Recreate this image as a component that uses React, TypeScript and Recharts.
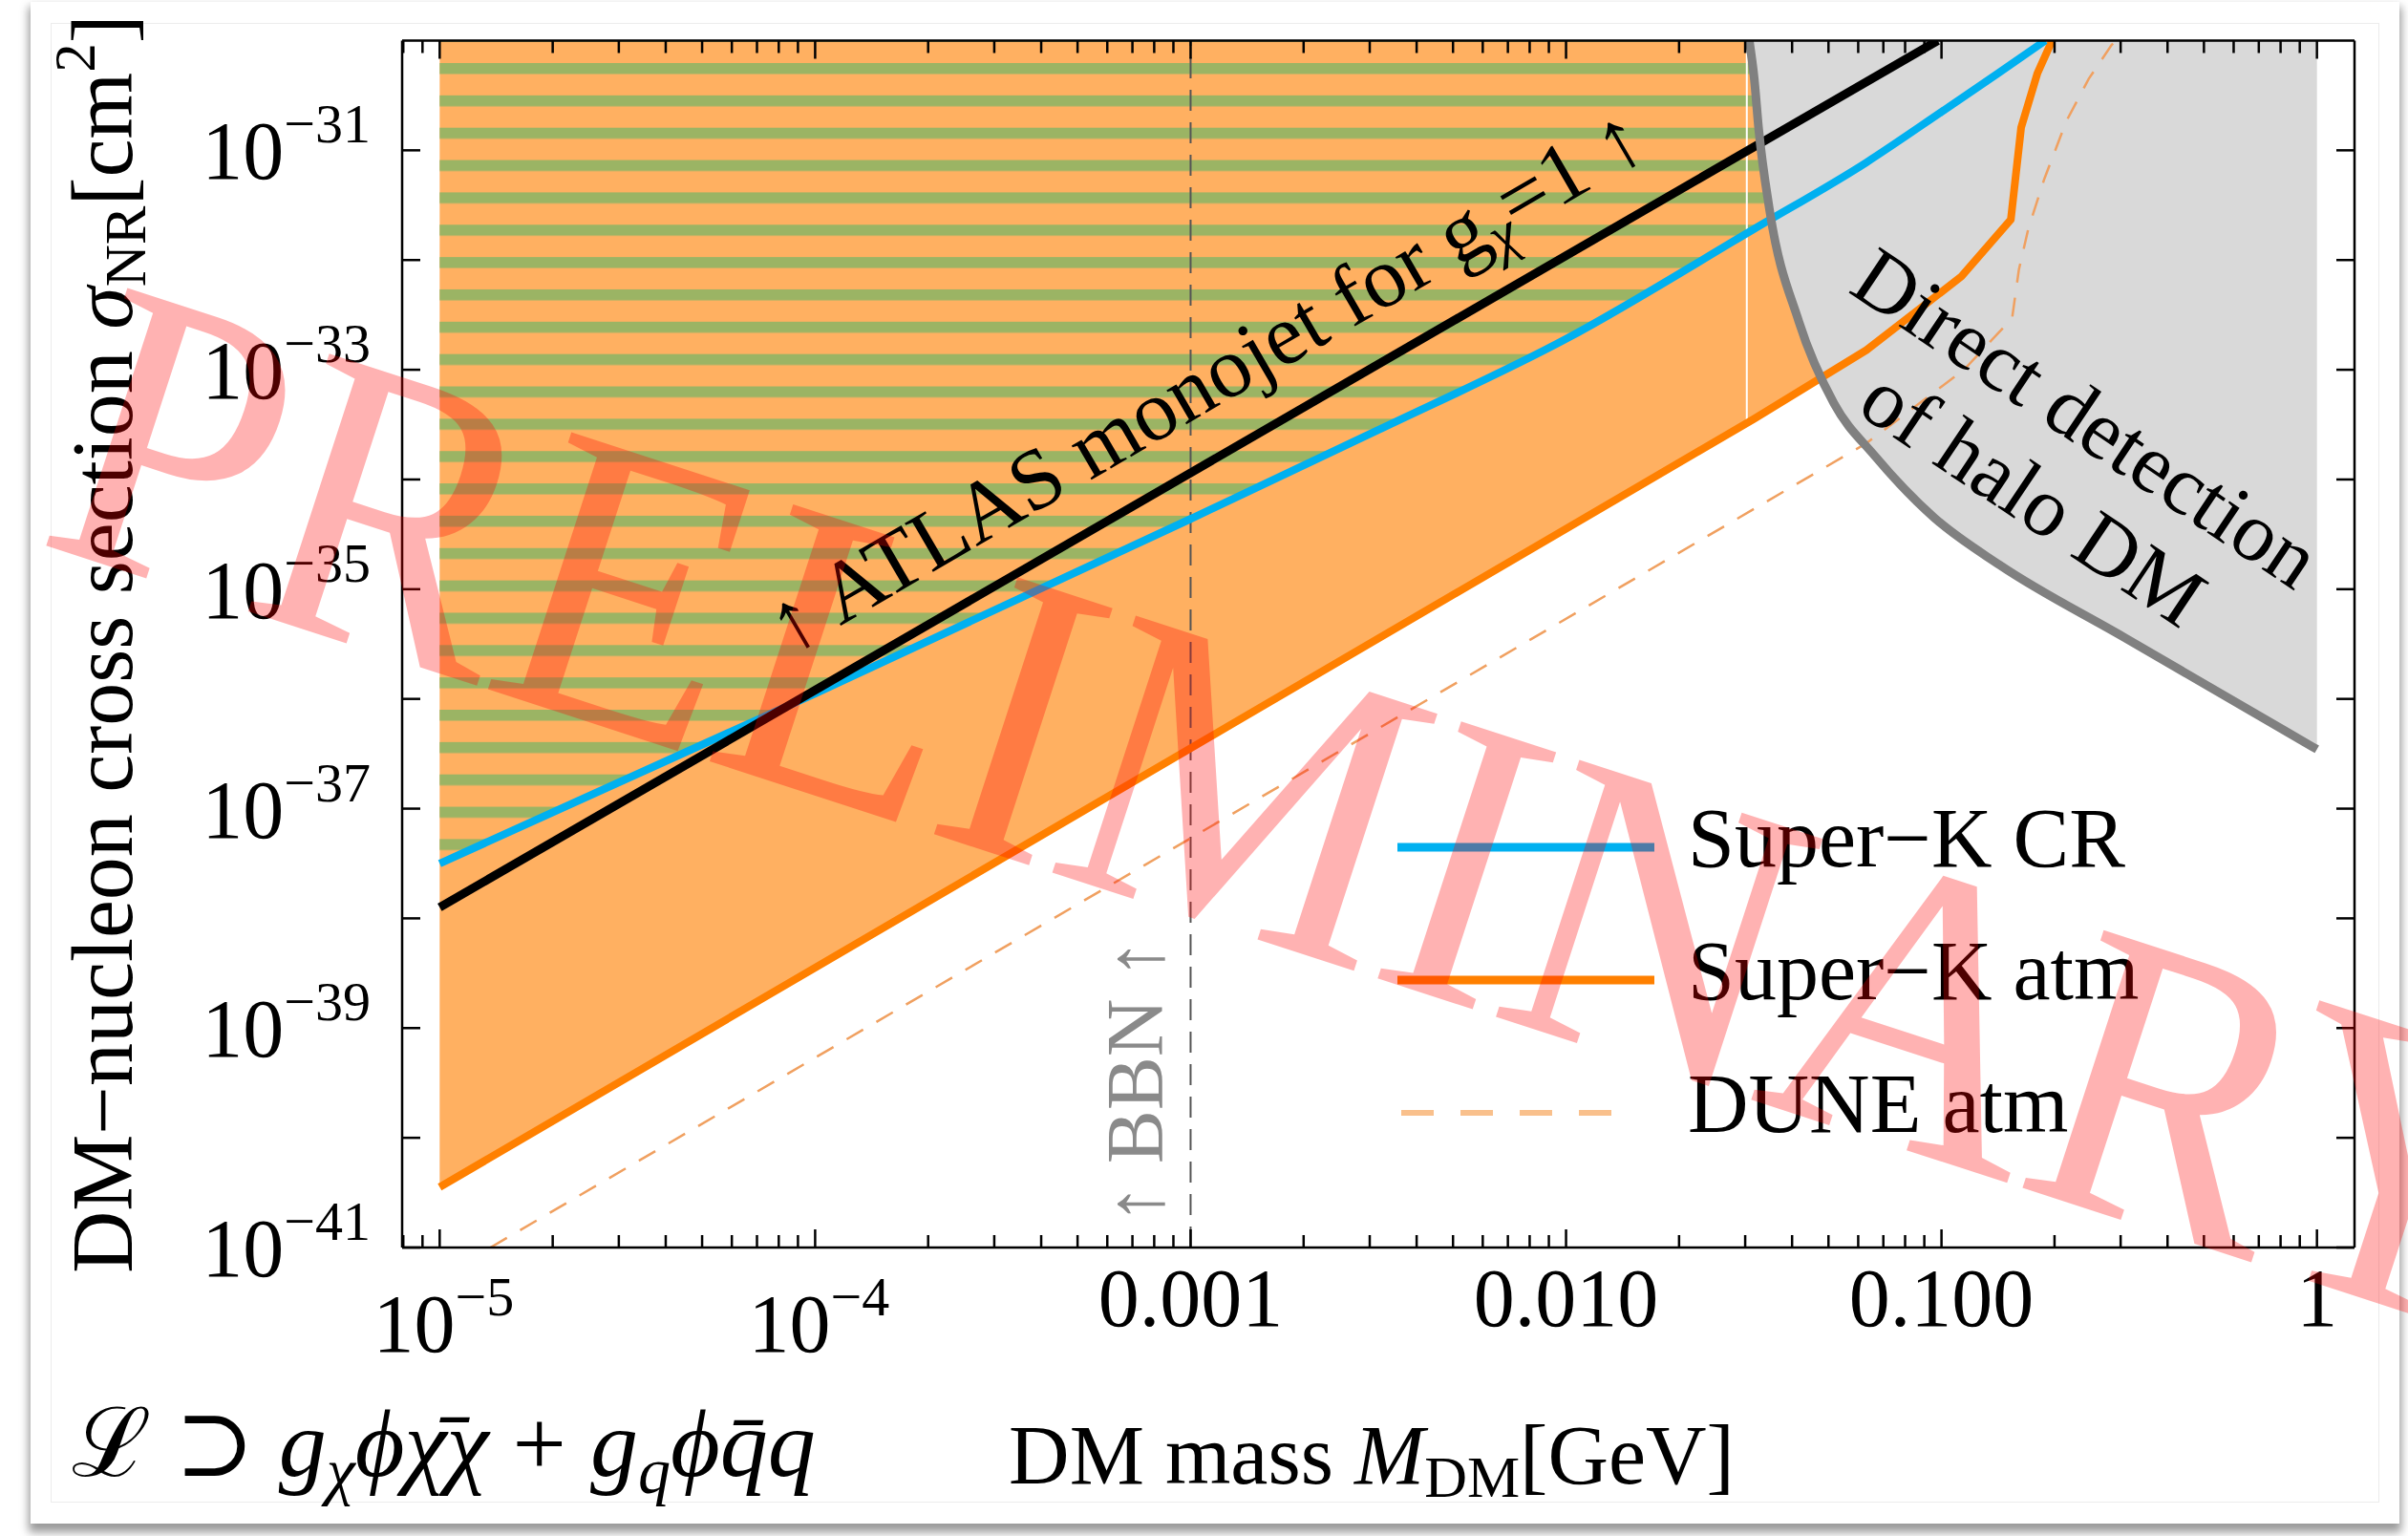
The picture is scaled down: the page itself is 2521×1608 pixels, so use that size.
import React from "react";
import { ComposedChart, Line, Area, XAxis, YAxis, Legend } from "recharts";

const FONT = '"Liberation Serif", "DejaVu Serif", serif';

// page / plot geometry (px)
const W = 2521;
const H = 1608;
const LEFT_W = 421;
const RIGHT_W = 56;
const TOP_H = 42.5;
const BOTTOM_H = 302;

const X_DOMAIN = [7.943e-6, 1.259];
const Y_DOMAIN = [1e-41, 1e-30];
const TOP_SIGMA = 1e-30;

// Super-K cosmic-ray upscattering bound (blue)
const crMass = [1e-5, 1e-4, 1e-3, 3.16e-3, 0.01, 0.0316, 0.0631, 0.1, 0.141, 0.189];
const crSigma = [3.16e-38, 1.12e-36, 4.37e-35, 2.82e-34, 1.91e-33, 1.91e-32, 7.76e-32, 2.24e-31, 5.0e-31, 1.0e-30];

// Super-K atmospheric bound (orange)
const atmMass = [1e-5, 0.0316, 0.0631, 0.113, 0.153, 0.163, 0.18, 0.197];
const atmSigma = [3.55e-41, 3.55e-34, 1.51e-33, 7.08e-33, 2.34e-32, 1.62e-31, 5.01e-31, 1.0e-30];

// DUNE atmospheric projection (dashed)
const duneMass = [1.365e-5, 0.0631, 0.1148, 0.1542, 0.1607, 0.1702, 0.1879, 0.2153, 0.2466, 0.2838, 0.292];
const duneSigma = [1e-41, 2.14e-34, 1e-33, 2.95e-33, 8.13e-33, 1.91e-32, 5.5e-32, 1.86e-31, 4.47e-31, 9.12e-31, 1.0e-30];

// ATLAS monojet, g_chi = 1 (black)
const atlasMass = [1e-5, 0.0977];
const atlasSigma = [1.26e-38, 1.0e-30];

// direct detection of halo DM (grey)
const ddMass = [0.03076, 0.0317, 0.0326, 0.03475, 0.04169, 0.05176, 0.06622, 0.09572, 0.1429, 0.3069, 1.0];
const ddSigma = [1e-30, 4.57e-31, 1.55e-31, 3.02e-32, 2.75e-33, 4.9e-34, 1.66e-34, 4.47e-35, 1.66e-35, 3.63e-36, 3.47e-37];

// BBN bound and the thin white seam in the shaded region
const bbnMass = [1e-3, 1e-3];
const bbnSigma = [1e-41, 1e-30];
const seamMass = [0.0303, 0.0303];
const seamSigma = [3.24e-34, 1e-30];

// ticks
const xMajorTicks = [1e-5, 1e-4, 1e-3, 0.01, 0.1, 1];
const xTickLabels = ["10^−5", "10^−4", "0.001", "0.010", "0.100", "1"];
const xMinorSteps = [2, 3, 4, 5, 6, 7, 8, 9];
const xTicks = [8e-6, 9e-6, ...xMajorTicks, ...xMajorTicks.slice(0, 5).flatMap((d) => xMinorSteps.map((k) => k * d))];
const yTicks = [1e-41, 1e-40, 1e-39, 1e-38, 1e-37, 1e-36, 1e-35, 1e-34, 1e-33, 1e-32, 1e-31];
const yLabelExponents = [-41, -39, -37, -35, -33, -31];

// legend
const legendNames = ["Super−K CR", "Super−K atm", "DUNE atm"];
const legendColors = ["#00B0F0", "#FF8000", "#F9C08C"];
const legendDash = ["", "", "34 28"];

const toRows = (mass: number[], sigma: number[]) => mass.map((m, i) => ({ mass: m, sigma: sigma[i] }));
const toBand = (mass: number[], sigma: number[]) => mass.map((m, i) => ({ mass: m, band: [sigma[i], TOP_SIGMA] }));

const majorIndex = (v: number) => xMajorTicks.findIndex((t) => Math.abs(Math.log10(t) - Math.log10(v)) < 1e-6);

const PowerLabel = ({ x, y, base, exp, anchor }: any) => (
  <text x={x} y={y} textAnchor={anchor} fontFamily={FONT} fontSize={86} fill="#000">
    <tspan>{base}</tspan>
    <tspan dy={-38} fontSize={58}>{exp}</tspan>
  </text>
);

const XTickBottom = (props: any) => {
  const { x, y, payload } = props;
  const idx = majorIndex(payload.value);
  const len = idx >= 0 ? 19 : 13;
  let label = null;
  if (idx >= 0) {
    const txt = xTickLabels[idx];
    if (txt.includes("^")) {
      const [b, e] = txt.split("^");
      label = <PowerLabel x={x + 4} y={y + 109} base={b} exp={e} anchor="middle" />;
    } else {
      label = (
        <text x={x} y={y + 82} textAnchor="middle" fontFamily={FONT} fontSize={86} fill="#000">
          {txt}
        </text>
      );
    }
  }
  return (
    <g>
      <line x1={x} x2={x} y1={y} y2={y - len} stroke="#000" strokeWidth={2.5} />
      {label}
    </g>
  );
};

const XTickTop = (props: any) => {
  const { x, y, payload } = props;
  const len = majorIndex(payload.value) >= 0 ? 19 : 13;
  return <line x1={x} x2={x} y1={y} y2={y + len} stroke="#000" strokeWidth={2.5} />;
};

const YTickLeft = (props: any) => {
  const { x, y, payload } = props;
  const exp = Math.round(Math.log10(payload.value));
  const labelled = yLabelExponents.includes(exp);
  return (
    <g>
      <line x1={x} x2={x + 19} y1={y} y2={y} stroke="#000" strokeWidth={2.5} />
      {labelled && <PowerLabel x={x - 33} y={y + 30} base="10" exp={"−" + Math.abs(exp)} anchor="end" />}
    </g>
  );
};

const YTickRight = (props: any) => {
  const { x, y } = props;
  return <line x1={x} x2={x - 19} y1={y} y2={y} stroke="#000" strokeWidth={2.5} />;
};

const LegendBox = () => (
  <svg width={800} height={420} style={{ overflow: "visible" }}>
    {legendNames.map((name, i) => {
      const y = 67 + i * 139;
      return (
        <g key={name}>
          <line
            x1={legendDash[i] ? 27 : 23}
            x2={legendDash[i] ? 273 : 292}
            y1={y}
            y2={y}
            stroke={legendColors[i]}
            strokeWidth={legendDash[i] ? 6 : 9}
            strokeDasharray={legendDash[i] || undefined}
          />
          <text x={327} y={y + 20} fontFamily={FONT} fontSize={88} fill="#000">
            {name}
          </text>
        </g>
      );
    })}
  </svg>
);

export default function App() {
  return (
    <div style={{ position: "absolute", left: 0, top: 0, width: W, height: H, background: "#fff", overflow: "hidden" }}>
      {/* card with drop shadow */}
      <div
        style={{
          position: "absolute",
          left: 32,
          top: 2,
          width: 2480,
          height: 1593,
          background: "#fff",
          boxShadow: "0 7px 9px 2px rgba(0,0,0,0.4)",
        }}
      />
      <div
        style={{
          position: "absolute",
          left: 53,
          top: 24,
          width: 2438,
          height: 1549,
          border: "1px solid #ececec",
          boxSizing: "border-box",
        }}
      />

      <svg width={0} height={0} style={{ position: "absolute" }}>
        <defs>
          <pattern id="stripes" patternUnits="userSpaceOnUse" x={0} y={66} width={40} height={33.85}>
            <rect x={0} y={0} width={40} height={11.5} fill="#9BB464" />
          </pattern>
        </defs>
      </svg>

      <div style={{ position: "absolute", left: 0, top: 0 }}>
        <ComposedChart width={W} height={H} margin={{ top: 0, right: 0, bottom: 0, left: 0 }}>
          <Line
            data={toRows(bbnMass, bbnSigma)}
            dataKey="sigma"
            stroke="#555"
            strokeWidth={2}
            strokeDasharray="22 12"
            dot={false}
            legendType="none"
            isAnimationActive={false}
          />
          <Area
            data={toBand(atmMass, atmSigma)}
            dataKey="band"
            type="linear"
            stroke="none"
            fill="#FF8000"
            fillOpacity={0.62}
            legendType="none"
            isAnimationActive={false}
          />
          <Area
            data={toBand(crMass, crSigma)}
            dataKey="band"
            type="linear"
            stroke="none"
            fill="url(#stripes)"
            fillOpacity={1}
            legendType="none"
            isAnimationActive={false}
          />
          <Line
            data={toRows(seamMass, seamSigma)}
            dataKey="sigma"
            stroke="#fff"
            strokeWidth={2}
            dot={false}
            legendType="none"
            isAnimationActive={false}
          />
          <Area
            data={toBand(ddMass, ddSigma)}
            dataKey="band"
            type="monotone"
            stroke="none"
            fill="#D9D9D9"
            fillOpacity={1}
            legendType="none"
            isAnimationActive={false}
          />
          <Line
            data={toRows(duneMass, duneSigma)}
            dataKey="sigma"
            name="DUNE atm"
            type="linear"
            stroke="#F0A060"
            strokeWidth={2.5}
            strokeDasharray="20 16"
            dot={false}
            isAnimationActive={false}
          />
          <Line
            data={toRows(atmMass, atmSigma)}
            dataKey="sigma"
            name="Super−K atm"
            type="linear"
            stroke="#FF8000"
            strokeWidth={8}
            strokeLinejoin="round"
            dot={false}
            isAnimationActive={false}
          />
          <Line
            data={toRows(crMass, crSigma)}
            dataKey="sigma"
            name="Super−K CR"
            type="monotone"
            stroke="#00B0F0"
            strokeWidth={8}
            dot={false}
            isAnimationActive={false}
          />
          <Line
            data={toRows(atlasMass, atlasSigma)}
            dataKey="sigma"
            type="linear"
            stroke="#000"
            strokeWidth={9}
            dot={false}
            legendType="none"
            isAnimationActive={false}
          />
          <Line
            data={toRows(ddMass, ddSigma)}
            dataKey="sigma"
            type="monotone"
            stroke="#808080"
            strokeWidth={9}
            dot={false}
            legendType="none"
            isAnimationActive={false}
          />

          <XAxis
            dataKey="mass"
            type="number"
            scale="log"
            domain={X_DOMAIN}
            allowDataOverflow
            ticks={xTicks}
            interval={0}
            height={BOTTOM_H}
            tickSize={0}
            tickMargin={0}
            tickLine={false}
            axisLine={{ stroke: "#000", strokeWidth: 2.5 }}
            tick={(p: any) => <XTickBottom {...p} />}
          />
          <XAxis
            xAxisId="top"
            orientation="top"
            dataKey="mass"
            type="number"
            scale="log"
            domain={X_DOMAIN}
            allowDataOverflow
            ticks={xTicks}
            interval={0}
            height={TOP_H}
            tickSize={0}
            tickMargin={0}
            tickLine={false}
            axisLine={{ stroke: "#000", strokeWidth: 2.5 }}
            tick={(p: any) => <XTickTop {...p} />}
          />
          <YAxis
            type="number"
            scale="log"
            domain={Y_DOMAIN}
            allowDataOverflow
            ticks={yTicks}
            interval={0}
            width={LEFT_W}
            tickSize={0}
            tickMargin={0}
            tickLine={false}
            axisLine={{ stroke: "#000", strokeWidth: 2.5 }}
            tick={(p: any) => <YTickLeft {...p} />}
          />
          <YAxis
            yAxisId="right"
            orientation="right"
            type="number"
            scale="log"
            domain={Y_DOMAIN}
            allowDataOverflow
            ticks={yTicks}
            interval={0}
            width={RIGHT_W}
            tickSize={0}
            tickMargin={0}
            tickLine={false}
            axisLine={{ stroke: "#000", strokeWidth: 2.5 }}
            tick={(p: any) => <YTickRight {...p} />}
          />
          <Legend
            layout="horizontal"
            verticalAlign="middle"
            align="center"
            wrapperStyle={{ left: 1440, top: 820, width: 800, height: 420 }}
            content={() => <LegendBox />}
          />
        </ComposedChart>
      </div>

      {/* annotations, axis titles and watermark */}
      <svg
        width={W}
        height={H}
        style={{ position: "absolute", left: 0, top: 0, pointerEvents: "none", zIndex: 5 }}
        fontFamily={FONT}
      >
        <text transform="rotate(-90 138 674)" x={138} y={674} textAnchor="middle" fontSize={90} fill="#000">
          DM−nucleon cross section <tspan fontStyle="italic">σ</tspan>
          <tspan fontSize={61} dy={14}>NR</tspan>
          <tspan dy={-14}>[cm</tspan>
          <tspan fontSize={61} dy={-39}>2</tspan>
          <tspan dy={39}>]</tspan>
        </text>

        <text x={1436} y={1553} textAnchor="middle" fontSize={88} fill="#000">
          DM mass <tspan fontStyle="italic">M</tspan>
          <tspan fontSize={62} dy={14}>DM</tspan>
          <tspan dy={-14}>[GeV]</tspan>
        </text>

        <text x={75} y={1545} fontSize={100} fill="#000">
          ℒ ⊃ <tspan fontStyle="italic">g</tspan>
          <tspan fontStyle="italic" fontSize={68} dy={18}>χ</tspan>
          <tspan fontStyle="italic" dy={-18}>ϕχ̄χ</tspan> + <tspan fontStyle="italic">g</tspan>
          <tspan fontStyle="italic" fontSize={68} dy={18}>q</tspan>
          <tspan fontStyle="italic" dy={-18}>ϕq̄q</tspan>
        </text>

        <text transform="rotate(-30.2 1277 424)" x={1277} y={424} textAnchor="middle" fontSize={90} fill="#000">
          ↑ ATLAS monojet for g<tspan fontStyle="italic" fontSize={61} dy={15}>χ</tspan>
          <tspan dy={-15}>=1 ↑</tspan>
        </text>

        <g transform="translate(2168 462) rotate(33.8)">
          <text textAnchor="middle" fontSize={88} fill="#000">
            <tspan x={0} y={0}>Direct detection</tspan>
            <tspan x={0} y={100}>of halo DM</tspan>
          </text>
        </g>

        <text transform="rotate(-90 1217 1132)" x={1217} y={1132} textAnchor="middle" fontSize={84} fill="#8a8a8a">
          ↑ BBN ↑
        </text>

        <g transform="translate(35 567) rotate(18) scale(0.925 1)">
          <text x={0} y={0} fontSize={432} fill="rgba(255,0,0,0.3)">
            PRELIMINARY
          </text>
        </g>
      </svg>
    </div>
  );
}
